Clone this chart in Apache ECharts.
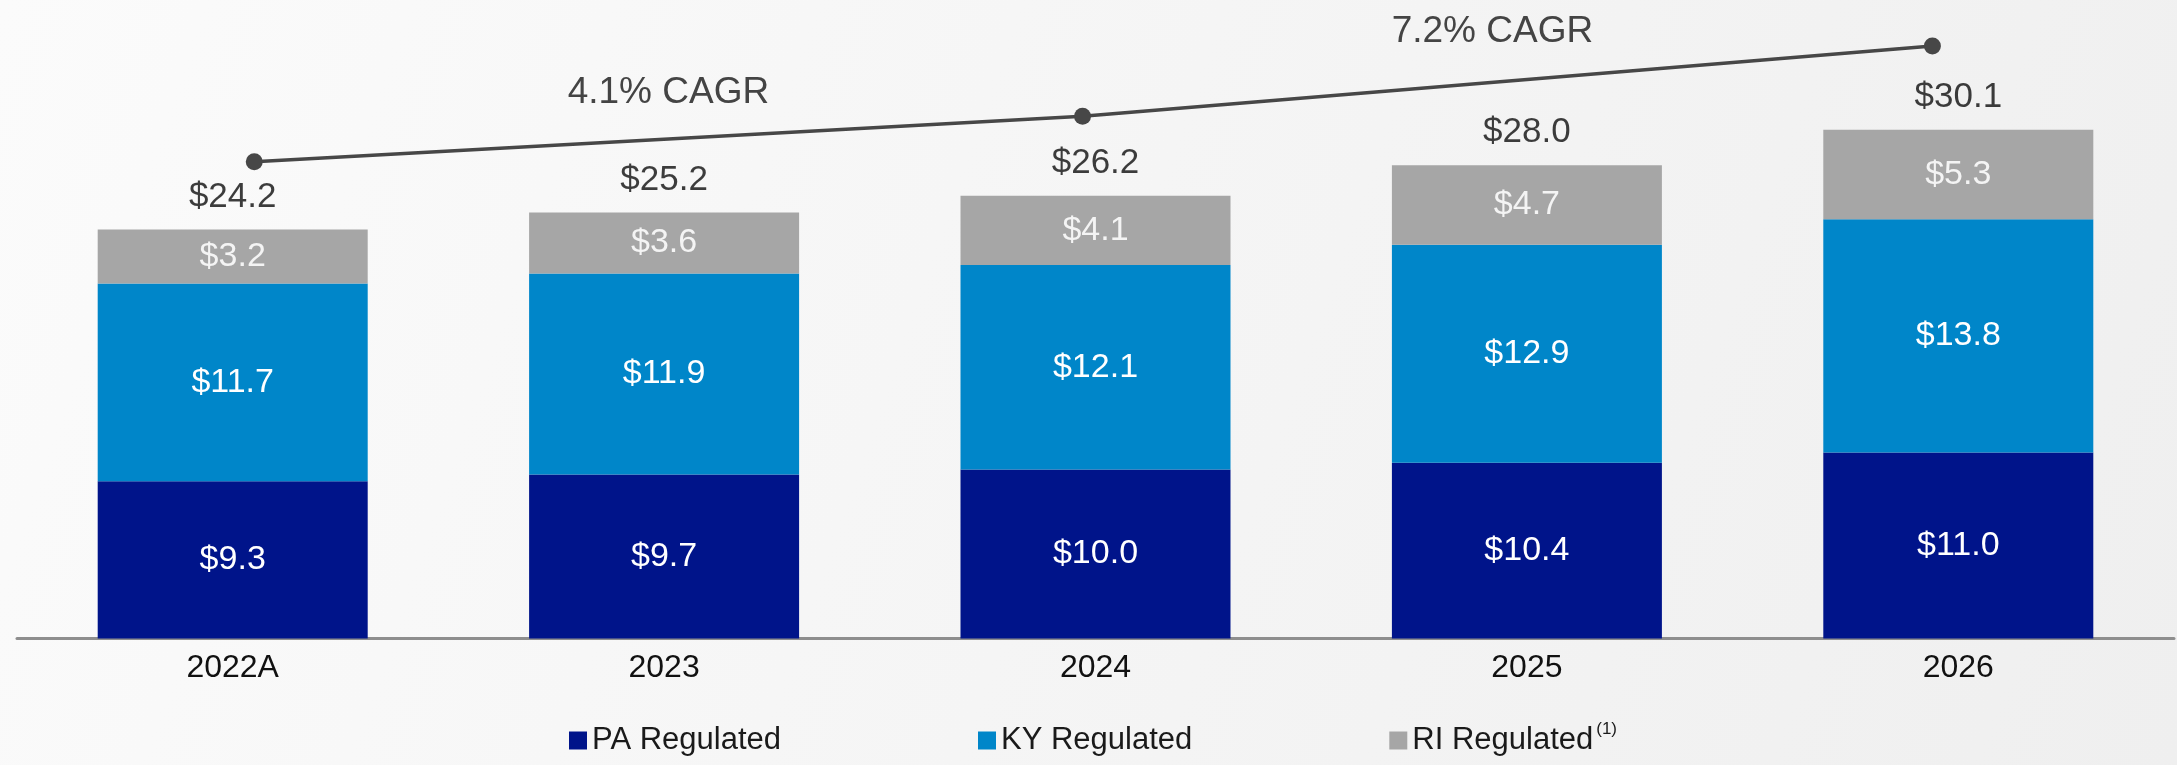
<!DOCTYPE html>
<html>
<head>
<meta charset="utf-8">
<script src="https://cdn.jsdelivr.net/npm/echarts@6/dist/echarts.min.js"></script>
<style>
  html, body { margin: 0; padding: 0; }
  #main { width: 2177px; height: 765px; }
</style>
</head>
<body>
<div id="main"></div>
<script>
// categories + stacked values ($bn)
var years = ['2022A', '2023', '2024', '2025', '2026'];
var paRegulated = [9.3, 9.7, 10.0, 10.4, 11.0];
var kyRegulated = [11.7, 11.9, 12.1, 12.9, 13.8];
var riRegulated = [3.2, 3.6, 4.1, 4.7, 5.3];
var totals = [24.2, 25.2, 26.2, 28.0, 30.1];

// CAGR annotation line (index along categories, level on the value axis)
var cagrLine = [[0.05, 28.2], [1.97, 30.9], [3.94, 35.05]];
var cagrLabels = [
    { text: '4.1% CAGR', coord: [1.01, 32.3] },
    { text: '7.2% CAGR', coord: [2.92, 35.9] }
];

var FONT = '"Liberation Sans", Arial, sans-serif';

function money(v) {
    return '$' + v.toFixed(1);
}

var myChart = echarts.init(document.getElementById('main'));

myChart.setOption({
    animation: false,
    backgroundColor: {
        type: 'linear', x: 0, y: 0, x2: 1, y2: 1,
        colorStops: [
            { offset: 0, color: '#fbfbfb' },
            { offset: 1, color: '#efefef' }
        ]
    },
    textStyle: { fontFamily: FONT },
    grid: { left: 17, right: 3, top: 30, bottom: 126.5 },
    legend: {
        data: ['PA Regulated', 'KY Regulated', 'RI Regulated'],
        left: 564,
        top: 716,
        itemWidth: 18,
        itemHeight: 18,
        itemGap: 197,
        icon: 'rect',
        textStyle: {
            fontSize: 31,
            color: '#1a1a1a',
            fontFamily: FONT,
            rich: {
                sup: { fontSize: 17, color: '#1a1a1a', padding: [0, 0, 22, 3] }
            }
        },
        formatter: function (name) {
            if (name === 'RI Regulated') return name + '{sup|(1)}';
            return name;
        }
    },
    xAxis: [
        {
            type: 'category',
            data: years,
            axisLine: { lineStyle: { color: '#8e8e8e', width: 3 } },
            axisTick: { show: false },
            axisLabel: { fontSize: 32, color: '#111', margin: 14, fontFamily: FONT }
        },
        {
            type: 'value',
            min: -0.5,
            max: 4.5,
            show: false
        }
    ],
    yAxis: {
        type: 'value',
        min: 0,
        max: 36,
        show: false,
        splitLine: { show: false }
    },
    series: [
        {
            name: 'PA Regulated',
            type: 'bar',
            stack: 'total',
            barWidth: 270,
            data: paRegulated,
            itemStyle: { color: '#00148a' },
            label: { show: true, position: 'inside', color: '#fff', fontSize: 34, formatter: function (p) { return money(p.value); } }
        },
        {
            name: 'KY Regulated',
            type: 'bar',
            stack: 'total',
            data: kyRegulated,
            itemStyle: { color: '#0086c9' },
            label: { show: true, position: 'inside', color: '#fff', fontSize: 34, formatter: function (p) { return money(p.value); } }
        },
        {
            name: 'RI Regulated',
            type: 'bar',
            stack: 'total',
            data: riRegulated,
            itemStyle: { color: '#a6a6a6' },
            label: { show: true, position: 'inside', color: '#f4f4f4', fontSize: 34, formatter: function (p) { return money(p.value); } }
        },
        {
            name: 'Total',
            type: 'scatter',
            data: totals,
            symbolSize: 0,
            silent: true,
            label: {
                show: true,
                position: 'top',
                distance: 15,
                color: '#0d0d0d',
                fontSize: 35,
                formatter: function (p) { return money(p.value); }
            }
        },
        {
            name: 'CAGR',
            type: 'line',
            xAxisIndex: 1,
            data: cagrLine,
            symbol: 'circle',
            symbolSize: 17,
            lineStyle: { color: '#474747', width: 3.5 },
            itemStyle: { color: '#474747' },
            silent: true,
            markPoint: {
                symbol: 'circle',
                symbolSize: 0,
                silent: true,
                label: {
                    show: true,
                    position: 'inside',
                    color: '#444',
                    fontSize: 37,
                    formatter: function (p) { return p.name; }
                },
                data: cagrLabels.map(function (c) {
                    return { name: c.text, coord: c.coord };
                })
            }
        }
    ]
});

window.addEventListener('resize', function () {
    myChart.resize();
});
</script>
</body>
</html>
